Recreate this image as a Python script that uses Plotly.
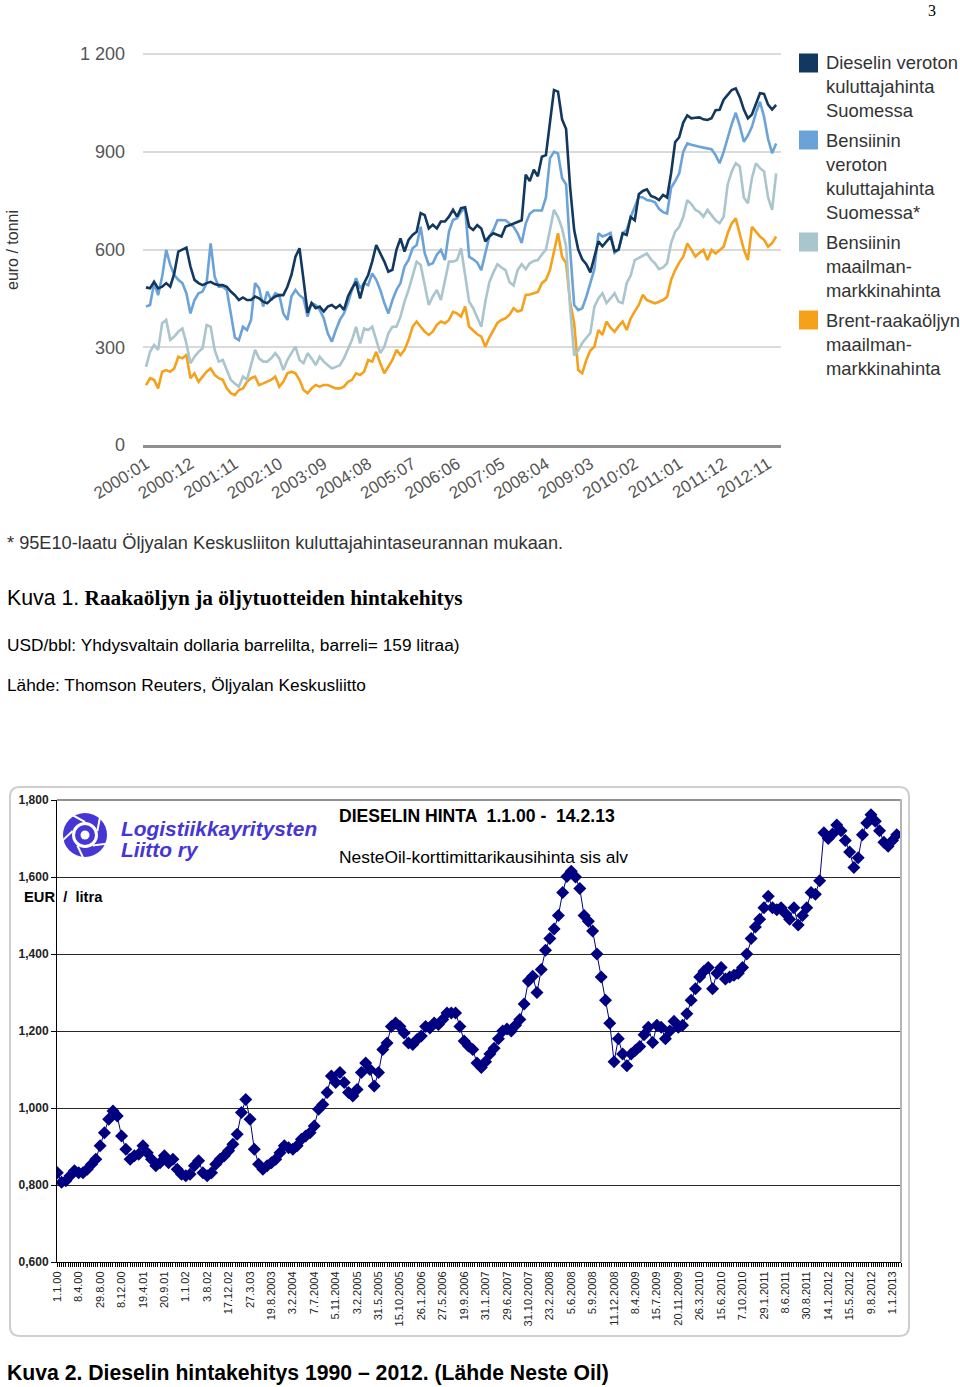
import plotly.graph_objects as go
import numpy as np

W, H = 960, 1387

# ---------------- Data: top chart (euro / tonni, monthly 2000:01 .. 2013:01) ----------------
month_labels = [f"{2000 + i // 12}:{i % 12 + 1:02d}" for i in range(157)]
top_tick_text = ["2000:01", "2000:12", "2001:11", "2002:10", "2003:09", "2004:08", "2005:07",
                 "2006:06", "2007:05", "2008:04", "2009:03", "2010:02", "2011:01", "2011:12", "2012:11"]

diesel_fi = [484, 481, 501, 481, 486, 497, 486, 527, 594, 601,
             606, 548, 507, 497, 491, 497, 501, 494, 491, 491,
             486, 471, 460, 445, 453, 445, 445, 456, 450, 440,
             435, 447, 456, 460, 460, 486, 522, 578, 604, 507,
             406, 436, 420, 425, 410, 425, 430, 420, 430, 415,
             456, 481, 501, 450, 497, 522, 563, 614, 589, 563,
             532, 538, 599, 634, 594, 630, 645, 655, 712, 706,
             665, 676, 665, 686, 686, 701, 722, 701, 727, 730,
             670, 660, 675, 665, 625, 640, 650, 645, 640, 670,
             675, 680, 685, 690, 830, 810, 845, 825, 885, 890,
             990, 1090, 1085, 1000, 970, 790, 660, 600, 570, 555,
             530, 575, 625, 610, 625, 640, 595, 600, 650, 645,
             700, 690, 770, 780, 785, 765, 760, 752, 768, 760,
             835, 930, 945, 990, 1012, 1003, 1005, 1006, 1000, 998,
             1003, 1028, 1029, 1060, 1075, 1090, 1095, 1068, 1030, 1003,
             1015, 1050, 1080, 1078, 1045, 1030, 1044]

petrol_fi = [425, 430, 497, 460, 517, 599, 553, 522, 507, 497,
             466, 404, 445, 466, 471, 497, 619, 517, 486, 486,
             476, 409, 330, 322, 363, 353, 384, 497, 481, 425,
             471, 445, 466, 460, 404, 384, 456, 476, 460, 450,
             394, 436, 430, 415, 389, 343, 317, 353, 384, 404,
             436, 476, 512, 481, 497, 491, 527, 507, 476, 436,
             404, 445, 476, 497, 548, 568, 604, 614, 670, 589,
             553, 558, 584, 599, 568, 655, 691, 696, 716, 727,
             578, 570, 560, 537, 590, 640, 660, 690, 691, 690,
             680, 670, 650, 620, 680, 710, 720, 720, 720, 760,
             880, 900, 895, 820, 800, 600, 430, 414, 420, 455,
             500, 540, 650, 640, 645, 651, 590, 600, 650, 660,
             700, 730, 762, 760, 752, 750, 745, 725, 715, 711,
             790, 810, 834, 900, 926, 922, 920, 916, 913, 911,
             908, 890, 865, 900, 947, 985, 1020, 980, 931, 950,
             977, 1020, 1054, 1008, 940, 896, 926]

petrol_world = [240, 286, 307, 292, 374, 384, 323, 333, 348, 358,
                312, 251, 271, 286, 297, 368, 363, 292, 256, 261,
                230, 200, 189, 179, 210, 200, 245, 292, 266, 256,
                256, 266, 282, 266, 230, 261, 282, 302, 261, 251,
                282, 266, 245, 271, 256, 245, 235, 240, 245, 266,
                292, 323, 363, 312, 358, 353, 363, 323, 282, 302,
                343, 363, 363, 394, 440, 476, 517, 563, 553, 486,
                430, 456, 476, 445, 507, 563, 563, 568, 604, 517,
                440, 420, 390, 363, 440, 500, 530, 555, 545, 537,
                500, 490, 537, 555, 540, 558, 565, 568, 585, 600,
                660, 722, 700, 665, 610, 420, 275, 290, 313, 330,
                344, 425, 450, 466, 436, 450, 466, 440, 436, 497,
                520, 568, 575, 580, 588, 570, 558, 540, 545, 558,
                620, 655, 670, 700, 752, 740, 722, 715, 701, 722,
                705, 690, 681, 701, 800, 840, 865, 855, 760, 742,
                820, 865, 850, 840, 760, 722, 834]

brent_world = [184, 205, 200, 174, 225, 230, 225, 235, 271, 266,
               276, 205, 220, 194, 210, 225, 235, 215, 205, 200,
               174, 159, 153, 169, 174, 194, 205, 210, 184, 189,
               194, 200, 210, 179, 194, 220, 225, 220, 200, 169,
               159, 174, 184, 179, 184, 184, 179, 174, 174, 179,
               194, 200, 220, 215, 225, 261, 256, 286, 251, 220,
               241, 261, 292, 276, 292, 323, 363, 379, 363, 348,
               338, 348, 369, 379, 374, 384, 409, 404, 394, 425,
               363, 350, 340, 333, 302, 330, 353, 375, 384, 389,
               400, 420, 410, 414, 461, 462, 466, 470, 497, 507,
               537, 590, 650, 578, 558, 440, 374, 230, 220, 261,
               290, 302, 353, 338, 379, 360, 348, 365, 379, 353,
               389, 410, 430, 461, 445, 440, 435, 440, 445, 455,
               507, 537, 560, 578, 619, 600, 578, 590, 599, 568,
               599, 588, 600, 609, 650, 680, 696, 650, 600, 568,
               670, 655, 640, 630, 609, 620, 640]

top_series_names = ["Dieselin veroton<br>kuluttajahinta<br>Suomessa",
                    "Bensiinin<br>veroton<br>kuluttajahinta<br>Suomessa*",
                    "Bensiinin<br>maailman-<br>markkinahinta",
                    "Brent-raakaöljyn<br>maailman-<br>markkinahinta"]
top_colors = ["#12385f", "#6ba3d8", "#a9c5cd", "#f5a11c"]

# ---------------- Data: bottom chart (EUR / litra) ----------------
date_labels = ["1.1.00", "8.4.00", "29.8.00", "8.12.00", "19.4.01", "20.9.01", "1.1.02", "3.8.02",
               "17.12.02", "27.3.03", "19.8.2003", "3.2.2004", "7.7.2004", "5.11.2004", "3.2.2005",
               "31.5.2005", "15.10.2005", "26.1.2006", "27.5.2006", "19.9.2006", "31.1.2007",
               "29.6.2007", "31.10.2007", "23.2.2008", "5.6.2008", "5.9.2008", "11.12.2008",
               "8.4.2009", "15.7.2009", "20.11.2009", "26.3.2010", "15.6.2010", "7.10.2010",
               "29.1.2011", "8.6.2011", "30.8.2011", "14.1.2012", "15.5.2012", "9.8.2012", "1.1.2013"]

diesel_price = [0.832, 0.807, 0.811, 0.824, 0.837, 0.832, 0.832, 0.841, 0.854, 0.867,
                0.902, 0.936, 0.971, 0.992, 0.979, 0.927, 0.893, 0.867, 0.876, 0.880,
                0.902, 0.884, 0.867, 0.850, 0.858, 0.876, 0.858, 0.867, 0.841, 0.828,
                0.824, 0.828, 0.850, 0.863, 0.832, 0.824, 0.832, 0.854, 0.867, 0.876,
                0.889, 0.906, 0.932, 0.988, 1.022, 0.971, 0.893, 0.854, 0.841, 0.850,
                0.858, 0.867, 0.884, 0.902, 0.897, 0.893, 0.902, 0.919, 0.927, 0.936,
                0.953, 0.997, 1.009, 1.040, 1.083, 1.066, 1.092, 1.066, 1.040, 1.031,
                1.048, 1.092, 1.117, 1.100, 1.057, 1.092, 1.152, 1.169, 1.212, 1.221,
                1.212, 1.195, 1.169, 1.165, 1.178, 1.187, 1.212, 1.208, 1.221, 1.217,
                1.230, 1.247, 1.247, 1.247, 1.212, 1.174, 1.161, 1.152, 1.117, 1.105,
                1.120, 1.140, 1.155, 1.180, 1.200, 1.205, 1.200, 1.215, 1.230, 1.270,
                1.330, 1.342, 1.300, 1.360, 1.410, 1.440, 1.465, 1.500, 1.560, 1.601,
                1.615, 1.600, 1.570, 1.500, 1.485, 1.460, 1.400, 1.340, 1.280, 1.220,
                1.120, 1.180, 1.140, 1.110, 1.140, 1.150, 1.160, 1.190, 1.210, 1.170,
                1.215, 1.210, 1.180, 1.200, 1.225, 1.210, 1.215, 1.245, 1.280, 1.310,
                1.340, 1.355, 1.365, 1.310, 1.350, 1.365, 1.335, 1.340, 1.345, 1.350,
                1.365, 1.400, 1.440, 1.470, 1.490, 1.520, 1.550, 1.520, 1.515, 1.520,
                1.505, 1.490, 1.520, 1.475, 1.500, 1.520, 1.560, 1.555, 1.590, 1.715,
                1.700, 1.712, 1.735, 1.720, 1.695, 1.665, 1.625, 1.650, 1.710, 1.740,
                1.762, 1.745, 1.720, 1.690, 1.680, 1.695, 1.710]
points_per_label = 5

bottom_y_ticks = [0.6, 0.8, 1.0, 1.2, 1.4, 1.6, 1.8]
bottom_y_text = ["0,600", "0,800", "1,000", "1,200", "1,400", "1,600", "1,800"]

# ---------------- helpers ----------------
def px(x):
    return x / W

def py(y):
    return 1 - y / H

SANS = "Liberation Sans, Arial, sans-serif"
SERIF = "Liberation Serif, Times New Roman, serif"

fig = go.Figure()

# top chart lines (drawn back to front)
for vals, col in [(brent_world, top_colors[3]), (petrol_world, top_colors[2]),
                  (petrol_fi, top_colors[1]), (diesel_fi, top_colors[0])]:
    fig.add_trace(go.Scatter(x=month_labels, y=vals, mode="lines",
                             line=dict(color=col, width=2.6), xaxis="x", yaxis="y",
                             showlegend=False, hoverinfo="skip"))

# bottom chart
xb = np.arange(len(diesel_price))
fig.add_trace(go.Scatter(x=xb, y=diesel_price, mode="lines+markers",
                         line=dict(color="#000080", width=1),
                         marker=dict(symbol="diamond", size=10, color="#000080"),
                         xaxis="x2", yaxis="y2", showlegend=False, hoverinfo="skip"))

top_tickvals = [month_labels[month_labels.index(t)] for t in top_tick_text]

fig.update_layout(
    width=W, height=H, margin=dict(l=0, r=0, t=0, b=0, pad=0, autoexpand=False),
    paper_bgcolor="white", plot_bgcolor="white",
    font=dict(family=SANS, color="#333"),
    xaxis=dict(domain=[px(143), px(781)], anchor="y", type="category",
               categoryorder="array", categoryarray=month_labels, automargin=False,
               range=[-0.744, 157.2], tickmode="array", tickvals=top_tickvals,
               ticktext=top_tick_text, tickangle=-32,
               tickfont=dict(size=17, color="#555"),
               showgrid=False, zeroline=False, showline=True,
               linecolor="#8f8f8f", linewidth=2.5, ticks=""),
    yaxis=dict(domain=[py(445), py(445 - 1210 * 0.3257)], anchor="x", automargin=False,
               range=[0, 1210], tickmode="array",
               tickvals=[0, 300, 600, 900, 1200],
               ticktext=["0", "300", "600", "900", "1 200"],
               tickfont=dict(size=18, color="#555"),
               showgrid=True, gridcolor="#dadada", gridwidth=2,
               zeroline=False, showline=False, ticks="", ticklabelstandoff=17),
    xaxis2=dict(domain=[px(57), px(901)], anchor="y2", automargin=False,
                range=[-0.07, 197.0], tickmode="array",
                tickvals=list(range(0, len(date_labels) * points_per_label, points_per_label)),
                ticktext=date_labels, tickangle=-90,
                tickfont=dict(size=11, color="#222"),
                showgrid=False, zeroline=False, showline=True,
                linecolor="#000", linewidth=1, ticks="outside", ticklen=4, tickcolor="#000",
                minor=dict(tickmode="linear", tick0=0, dtick=0.5, ticks="outside",
                           ticklen=4, tickcolor="#000", showgrid=False)),
    yaxis2=dict(domain=[py(1262), py(800)], anchor="x2", automargin=False,
                range=[0.6, 1.8], tickmode="array", tickvals=bottom_y_ticks,
                ticktext=[f"<b>{t}</b>" for t in bottom_y_text],
                tickfont=dict(size=12, color="#222"),
                showgrid=True, gridcolor="#262626", gridwidth=1,
                zeroline=False, showline=True, linecolor="#000", linewidth=1,
                ticks="outside", ticklen=5, tickcolor="#000"),
)

shapes = []

# rounded frame of bottom chart
def rr_path(x0, y0, x1, y1, r):
    pts = [
        ("M", [(x0 + r, y0)]), ("L", [(x1 - r, y0)]), ("Q", [(x1, y0), (x1, y0 + r)]),
        ("L", [(x1, y1 - r)]), ("Q", [(x1, y1), (x1 - r, y1)]),
        ("L", [(x0 + r, y1)]), ("Q", [(x0, y1), (x0, y1 - r)]),
        ("L", [(x0, y0 + r)]), ("Q", [(x0, y0), (x0 + r, y0)]),
    ]
    s = ""
    for cmd, ps in pts:
        s += cmd + " " + " ".join(f"{px(a):.5f},{py(b):.5f}" for a, b in ps) + " "
    return s + "Z"

shapes.append(dict(type="path", xref="paper", yref="paper", path=rr_path(10, 787, 909, 1336, 10),
                   line=dict(color="#cfcfcf", width=2), fillcolor="rgba(0,0,0,0)", layer="below"))
# plot-area top and right border of bottom chart
shapes.append(dict(type="line", xref="paper", yref="paper", x0=px(57), x1=px(901), y0=py(800), y1=py(800),
                   line=dict(color="#222", width=1)))
shapes.append(dict(type="line", xref="paper", yref="paper", x0=px(901), x1=px(901), y0=py(799), y1=py(1262),
                   line=dict(color="#b5b5b5", width=2)))

# legend squares (top chart)
for yc, col in zip([63, 140, 242, 320], top_colors):
    shapes.append(dict(type="rect", xref="paper", yref="paper", x0=px(799), x1=px(818),
                       y0=py(yc - 9.5), y1=py(yc + 9.5), fillcolor=col, line=dict(width=0)))

# logo (wheel)
def circ(cx, cy, r, color):
    return dict(type="circle", xref="paper", yref="paper", x0=px(cx - r), x1=px(cx + r),
                y0=py(cy + r), y1=py(cy - r), fillcolor=color, line=dict(width=0))

LOGO = "#4636d4"
shapes.append(circ(85, 835, 22, LOGO))
shapes.append(circ(85, 835, 13, "white"))
shapes.append(circ(85, 835, 10, LOGO))
shapes.append(circ(85, 835, 4.5, "white"))
for ang in np.deg2rad([18, 90, 162, 234, 306]):
    x0 = 85 + 13 * np.cos(ang)
    y0 = 835 - 13 * np.sin(ang)
    x1 = 85 + 23 * np.cos(ang + 0.55)
    y1 = 835 - 23 * np.sin(ang + 0.55)
    shapes.append(dict(type="line", xref="paper", yref="paper", x0=px(x0), y0=py(y0),
                       x1=px(x1), y1=py(y1), line=dict(color="white", width=2)))

fig.update_layout(shapes=shapes)

ann = []

def text(x, y, s, size, color="#000", family=SANS, xanchor="left", yanchor="middle", angle=0):
    ann.append(dict(x=px(x), y=py(y), xref="paper", yref="paper", text=s, showarrow=False,
                    xanchor=xanchor, yanchor=yanchor, align="left", textangle=angle,
                    font=dict(size=size, color=color, family=family)))

# page number
text(932, 10, "3", 16, "#000", SERIF, xanchor="center")
# top chart y title
text(12, 250, "euro / tonni", 16, "#333", SANS, xanchor="center", angle=-90)
# legend texts
for yc, s in zip([86, 176, 266, 344], top_series_names):
    text(824, yc, s, 18.4, "#333")
# footnote
text(5, 543, "* 95E10-laatu Öljyalan Keskusliiton kuluttajahintaseurannan mukaan.", 18.2, "#333")
# captions
text(5, 598, '<span style="font-family:Liberation Sans">Kuva 1.</span> '
             '<b>Raakaöljyn ja öljytuotteiden hintakehitys</b>', 21.3, "#000", SERIF)
text(5, 645, "USD/bbl: Yhdysvaltain dollaria barrelilta, barreli= 159 litraa)", 17.3, "#000")
text(5, 685, "Lähde: Thomson Reuters, Öljyalan Keskusliitto", 17.3, "#000")
# bottom chart texts
text(119, 828, "<b><i>Logistiikkayritysten</i></b>", 20.9, LOGO)
text(119, 849, "<b><i>Liitto ry</i></b>", 20.9, LOGO)
text(337, 816, "<b>DIESELIN HINTA  1.1.00 -  14.2.13</b>", 17.6, "#000")
text(337, 857, "NesteOil-korttimittarikausihinta sis alv", 17.4, "#000")
text(22, 897, "<b>EUR  /  litra</b>", 14.7, "#000")
text(5, 1373, "<b>Kuva 2. Dieselin hintakehitys 1990 – 2012. (Lähde Neste Oil)</b>", 21.2, "#000")

fig.update_layout(annotations=ann)

fig.write_html("out.html", config={"displayModeBar": False},
               post_script="document.body.style.margin='0';document.body.style.overflow='hidden';")
